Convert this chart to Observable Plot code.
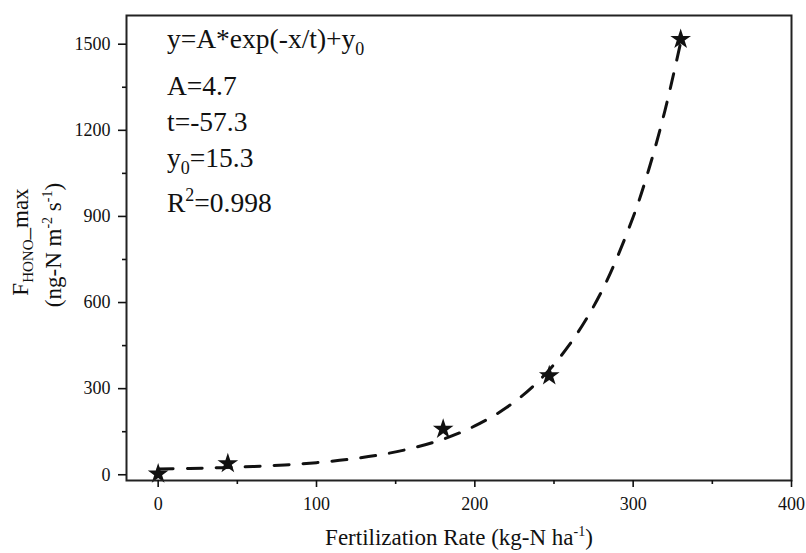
<!DOCTYPE html>
<html>
<head>
<meta charset="utf-8">
<script src="https://cdn.jsdelivr.net/npm/d3@7"></script>
<script src="https://cdn.jsdelivr.net/npm/@observablehq/plot@0.6"></script>
<style>
  html, body { margin: 0; padding: 0; background: #fff; }
</style>
</head>
<body>
<div id="chart"></div>
<script>
// Measured data (stars)
const fertilizationRate = [0, 44, 180, 247, 330];
const fhonoMax = [3, 39, 159, 345, 1517];

// Fitted dashed curve
const fitX = [0, 20, 40, 60, 80, 100, 120, 140, 160, 180, 200, 220, 240, 260, 280, 300, 310, 320, 330];
const fitY = [20, 22, 24.7, 28.7, 34.3, 42.2, 53.5, 69.4, 92, 124, 170, 234, 325, 455, 638, 898, 1066, 1267, 1506];

// Fit parameters shown in the annotation
const fitA = "4.7";
const fitT = "-57.3";
const fitY0 = "15.3";
const fitR2 = "0.998";

// Ticks
const xTicks = [0, 100, 200, 300, 400];
const xMinorTicks = [50, 150, 250, 350];
const yTicks = [0, 300, 600, 900, 1200, 1500];
const yMinorTicks = [150, 450, 750, 1050, 1350];

const points = fertilizationRate.map((x, i) => ({x, y: fhonoMax[i]}));
const curve = fitX.map((x, i) => ({x, y: fitY[i]}));

const W = 806, H = 553;
const ink = "#111";
const serif = "Liberation Serif, Times New Roman, serif";

const svg = Plot.plot({
  width: W,
  height: H,
  marginLeft: 126,
  marginRight: 15,
  marginTop: 15,
  marginBottom: 73,
  style: {fontFamily: serif, fontSize: "18px", color: ink, background: "#fff"},
  x: {domain: [-20, 400]},
  y: {domain: [-20, 1600]},
  marks: [
    Plot.line(curve, {x: "x", y: "y", stroke: ink, strokeWidth: 3, strokeDasharray: "15,14", curve: "catmull-rom"}),
    Plot.dot(points, {x: "x", y: "y", symbol: "star", r: 6.5, fill: ink, stroke: "none"}),
    Plot.frame({stroke: "#222", strokeWidth: 2}),
    Plot.axisX({ticks: xTicks, tickFormat: d3.format("d"), tickSize: 7, tickPadding: 10, strokeWidth: 1.6, label: null, fontSize: 18, fontFamily: serif}),
    Plot.axisX({ticks: xMinorTicks, tickSize: 4, strokeWidth: 1.6, text: null, label: null}),
    Plot.axisY({ticks: yTicks, tickFormat: d3.format("d"), tickSize: 8, tickPadding: 8, strokeWidth: 1.6, label: null, fontSize: 18, fontFamily: serif}),
    Plot.axisY({ticks: yMinorTicks, tickSize: 4, strokeWidth: 1.6, text: null, label: null})
  ]
});

document.getElementById("chart").appendChild(svg);

const root = d3.select(svg);

// helper: segments [[text, kind]] kind: undefined | "sub" | "sup"
function richText(g, segs, size, subSize, subShift, supShift) {
  let cur = 0;
  for (const [t, kind] of segs) {
    const target = kind === "sub" ? subShift : kind === "sup" ? -supShift : 0;
    const ts = g.append("tspan").attr("dy", target - cur).text(t);
    ts.style("font-size", (kind ? subSize : size) + "px");
    cur = target;
  }
}

function makeText(transformOrXY, anchor, size) {
  const t = root.append("text")
    .attr("text-anchor", anchor)
    .style("font-family", serif)
    .style("font-size", size + "px")
    .attr("fill", ink);
  if (typeof transformOrXY === "string") t.attr("transform", transformOrXY);
  else t.attr("x", transformOrXY[0]).attr("y", transformOrXY[1]);
  return t;
}

// Annotation block
const annX = 167;
const annLines = [
  {y: 48, segs: [["y=A*exp(-x/t)+y"], ["0", "sub"]]},
  {y: 95, segs: [["A=" + fitA]]},
  {y: 131, segs: [["t=" + fitT]]},
  {y: 167, segs: [["y"], ["0", "sub"], ["=" + fitY0]]},
  {y: 212, segs: [["R"], ["2", "sup"], ["=" + fitR2]]}
];
for (const line of annLines) {
  const t = makeText([annX, line.y], "start", 27.5);
  richText(t, line.segs, 27.5, 18, 7, 11);
}

// X axis title
const xt = makeText([459, 545], "middle", 23);
richText(xt, [["Fertilization Rate (kg-N ha"], ["-1", "sup"], [")"]], 23, 14, 0, 9);

// Y axis title (two rotated lines)
const yt1 = makeText("translate(28,242) rotate(-90)", "middle", 23);
richText(yt1, [["F"], ["HONO", "sub"], ["_max"]], 23, 15, 5, 0);

const yt2 = makeText("translate(61,245) rotate(-90)", "middle", 23);
richText(yt2, [["(ng-N m"], ["-2", "sup"], [" s"], ["-1", "sup"], [")"]], 23, 14, 0, 9);
</script>
</body>
</html>
